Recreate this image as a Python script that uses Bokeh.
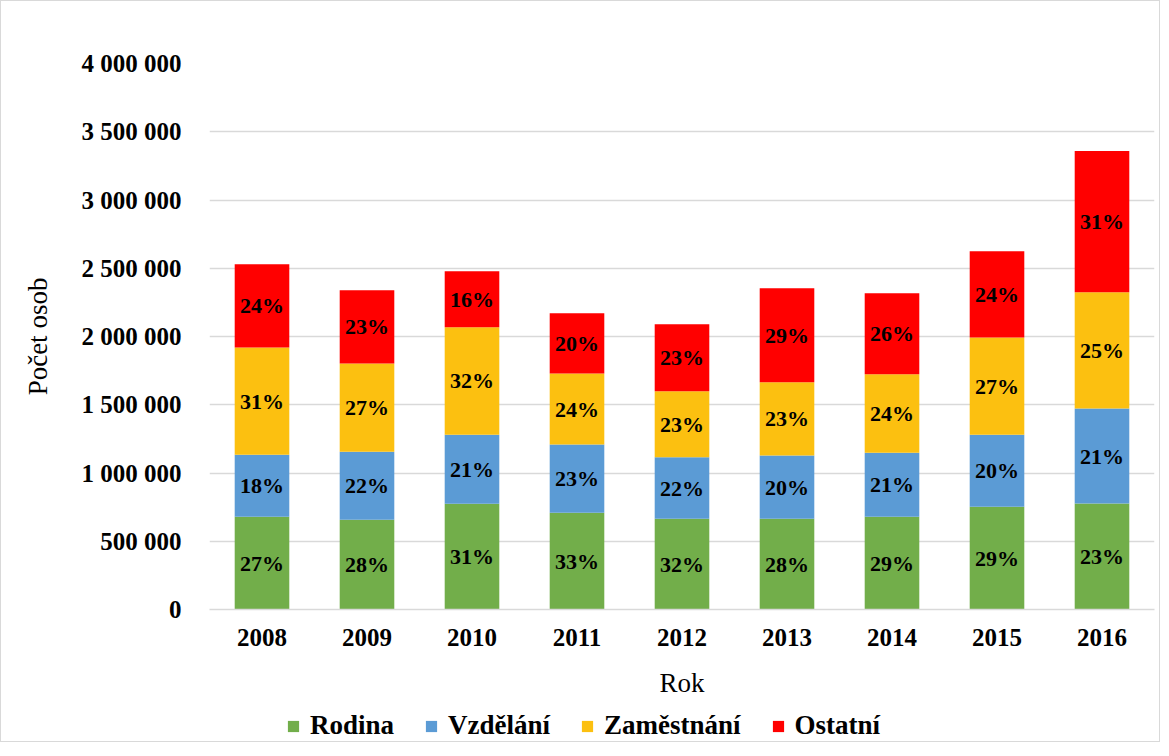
from bokeh.plotting import figure
from bokeh.layouts import column
from bokeh.models import (ColumnDataSource, FactorRange, FixedTicker, CustomJSTickFormatter,
                          LabelSet, Legend, LegendItem, Range1d)
from bokeh.embed import file_html
from bokeh.resources import INLINE
import numpy as np

years = ["2008", "2009", "2010", "2011", "2012", "2013", "2014", "2015", "2016"]
series = ["Rodina", "Vzdělání", "Zaměstnání", "Ostatní"]
rodina = [679000, 657000, 775000, 709000, 664000, 664000, 679000, 753000, 777000]
vzdelani = [455000, 499000, 506000, 499000, 451000, 465000, 470000, 528000, 695000]
zamestnani = [786000, 646000, 786000, 521000, 484000, 536000, 575000, 712000, 852000]
ostatni = [609000, 536000, 411000, 441000, 490000, 688000, 592000, 632000, 1035000]
pct_rodina = ["27%", "28%", "31%", "33%", "32%", "28%", "29%", "29%", "23%"]
pct_vzdelani = ["18%", "22%", "21%", "23%", "22%", "20%", "21%", "20%", "21%"]
pct_zamestnani = ["31%", "27%", "32%", "24%", "23%", "23%", "24%", "27%", "25%"]
pct_ostatni = ["24%", "23%", "16%", "20%", "23%", "29%", "26%", "24%", "31%"]
y_ticks = [0, 500000, 1000000, 1500000, 2000000, 2500000, 3000000, 3500000, 4000000]

colors = ["#72ae4a", "#5b9bd5", "#fcc010", "#ff0000"]
keys = ["rodina", "vzdelani", "zamestnani", "ostatni"]
FONT = "Liberation Serif"

data = dict(years=years, rodina=rodina, vzdelani=vzdelani, zamestnani=zamestnani, ostatni=ostatni)
source = ColumnDataSource(data)

p = figure(x_range=FactorRange(*years, range_padding=0), y_range=Range1d(0, 4000000),
           width=1158, height=700, output_backend="svg", toolbar_location=None,
           min_border_left=208, min_border_right=5, min_border_top=62, min_border_bottom=92)
p.outline_line_color = None

renderers = p.vbar_stack(keys, x="years", width=0.52, source=source, color=colors,
                         line_color=None)

# labels
vals = np.array([rodina, vzdelani, zamestnani, ostatni], dtype=float)
cum = np.cumsum(vals, axis=0)
mids = cum - vals / 2
pcts = [pct_rodina, pct_vzdelani, pct_zamestnani, pct_ostatni]
for i in range(4):
    src = ColumnDataSource(dict(x=years, y=list(mids[i]), t=pcts[i]))
    p.add_layout(LabelSet(x="x", y="y", text="t", source=src, text_align="center",
                          text_baseline="middle", text_font=FONT, text_font_style="bold",
                          text_font_size="22px", text_color="black"))

# axes
p.yaxis.ticker = FixedTicker(ticks=y_ticks)
p.yaxis.formatter = CustomJSTickFormatter(code="return tick.toFixed(0).replace(/\\B(?=(\\d{3})+(?!\\d))/g, ' ');")
p.yaxis.axis_line_color = None
p.yaxis.major_tick_line_color = None
p.yaxis.minor_tick_line_color = None
p.yaxis.major_label_text_font = FONT
p.yaxis.major_label_text_font_style = "bold"
p.yaxis.major_label_text_font_size = "25px"
p.yaxis.major_label_text_color = "black"
p.yaxis.major_label_standoff = 22
p.yaxis.axis_label = "Počet osob"
p.yaxis.axis_label_text_font = FONT
p.yaxis.axis_label_text_font_style = "normal"
p.yaxis.axis_label_text_font_size = "27px"
p.yaxis.axis_label_text_color = "black"
p.yaxis.axis_label_standoff = 26

p.xaxis.axis_line_color = "#d9d9d9"
p.xaxis.axis_line_width = 1.5
p.xaxis.major_tick_line_color = None
p.xaxis.minor_tick_line_color = None
p.xaxis.major_label_text_font = FONT
p.xaxis.major_label_text_font_style = "bold"
p.xaxis.major_label_text_font_size = "25px"
p.xaxis.major_label_text_color = "black"
p.xaxis.major_label_standoff = 13
p.xaxis.axis_label = "Rok"
p.xaxis.axis_label_text_font = FONT
p.xaxis.axis_label_text_font_style = "normal"
p.xaxis.axis_label_text_font_size = "27px"
p.xaxis.axis_label_text_color = "black"
p.xaxis.axis_label_standoff = 19

p.xgrid.grid_line_color = None
p.ygrid.grid_line_color = "#d9d9d9"
p.ygrid.grid_line_width = 1.5

# legend strip below the chart (proxy glyphs lie outside its visible range)
lg = figure(width=1158, height=40, output_backend="svg", toolbar_location=None,
            x_range=Range1d(0, 1), y_range=Range1d(0, 1), x_axis_type=None, y_axis_type=None,
            min_border_left=208, min_border_right=5, min_border_top=0, min_border_bottom=0)
lg.outline_line_color = None
lg.xgrid.grid_line_color = None
lg.ygrid.grid_line_color = None
dummies = [lg.vbar(x=[-5], top=[-5], bottom=[-6], width=0.5, fill_color=c, line_color=None)
           for c in colors]
legend = Legend(items=[LegendItem(label=s, renderers=[r]) for s, r in zip(series, dummies)],
                orientation="horizontal", location=(77, 0), border_line_color=None,
                background_fill_alpha=0, label_text_font=FONT, label_text_font_style="bold",
                label_text_font_size="27px", label_text_color="black",
                glyph_width=14, glyph_height=14, spacing=30, label_standoff=10,
                padding=0, margin=0)
lg.add_layout(legend, "center")

layout = column(p, lg, spacing=0)
layout.styles = {"border": "1px solid #d9d9d9"}

open("out.html", "w").write(file_html(layout, INLINE))
